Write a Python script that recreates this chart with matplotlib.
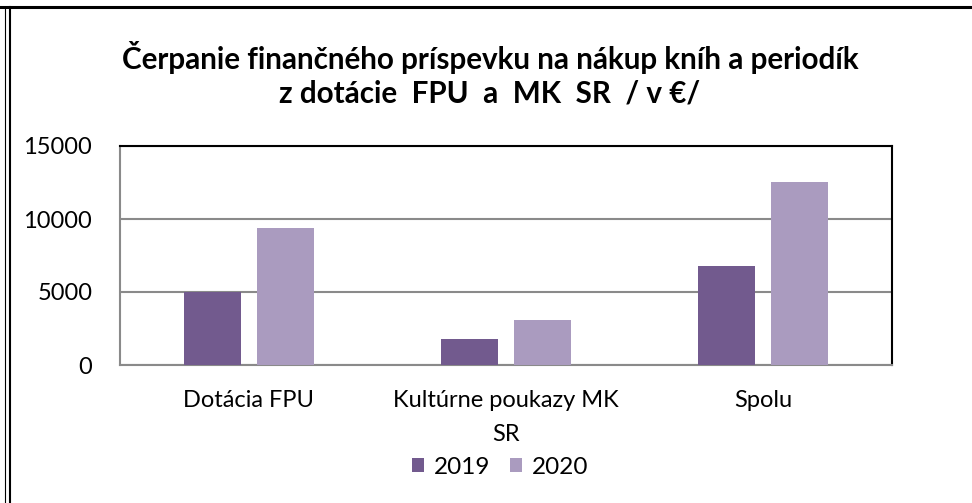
import numpy as np
import matplotlib
matplotlib.use('Agg')
import matplotlib.pyplot as plt
from matplotlib.lines import Line2D

plt.rcParams['font.family'] = ['Lato', 'DejaVu Sans']

# data
kategorie = ['Dotácia FPU', 'Kultúrne poukazy MK\nSR', 'Spolu']
roky = ['2019', '2020']
hodnoty_2019 = [5010, 1780, 6780]
hodnoty_2020 = [9400, 3110, 12510]
y_ticky = [0, 5000, 10000, 15000]

farba_2019 = '#725a8e'
farba_2020 = '#aa9bbf'
siva = '#8a8a8a'

fig = plt.figure(figsize=(9.72, 5.03), dpi=100)
ax = fig.add_axes([120 / 972, 1 - 365 / 503, 772 / 972, 219 / 503])

x = np.arange(len(kategorie))
sirka = 0.222
ax.bar(x - 0.142, hodnoty_2019, width=sirka, color=farba_2019, label=roky[0], zorder=3)
ax.bar(x + 0.142, hodnoty_2020, width=sirka, color=farba_2020, label=roky[1], zorder=3)

ax.set_xlim(-0.5, len(kategorie) - 0.5)
ax.set_ylim(0, 15000)
ax.set_yticks(y_ticky)
ax.set_xticks(x)
ax.set_xticklabels(kategorie, fontsize=17, linespacing=1.75)
ax.tick_params(axis='y', length=0, pad=20, labelsize=17)
ax.tick_params(axis='x', length=0, pad=18)
ax.grid(axis='y', color=siva, linewidth=1.5, zorder=0)

for s in ['left', 'bottom']:
    ax.spines[s].set_color(siva)
    ax.spines[s].set_linewidth(1.5)
for s in ['top', 'right']:
    ax.spines[s].set_color('black')
    ax.spines[s].set_linewidth(1.5)

fig.text(0.504, 1 - 57 / 503, 'Čerpanie finančného príspevku na nákup kníh a periodík',
         ha='center', va='center', fontsize=21.3, fontweight='bold')
fig.text(0.504, 1 - 93 / 503, 'z dotácie  FPU  a  MK  SR  / v €/',
         ha='center', va='center', fontsize=21.3, fontweight='bold')

fig.legend(loc='center', bbox_to_anchor=(500 / 972, 1 - 467 / 503), ncol=2, frameon=False,
           fontsize=17.5, handlelength=0.5, handleheight=0.5, handletextpad=0.4,
           columnspacing=0.8)

# frame lines of the original picture
fig.add_artist(Line2D([0, 1], [1 - 7 / 503, 1 - 7 / 503], color='black', linewidth=2.2,
                      transform=fig.transFigure))
fig.add_artist(Line2D([5 / 972, 5 / 972], [0, 1 - 7 / 503], color='black', linewidth=0.8,
                      transform=fig.transFigure))
fig.add_artist(Line2D([10 / 972, 10 / 972], [0, 1 - 7 / 503], color='black', linewidth=1.5,
                      transform=fig.transFigure))

fig.savefig('out.png', dpi=100, facecolor='white')
